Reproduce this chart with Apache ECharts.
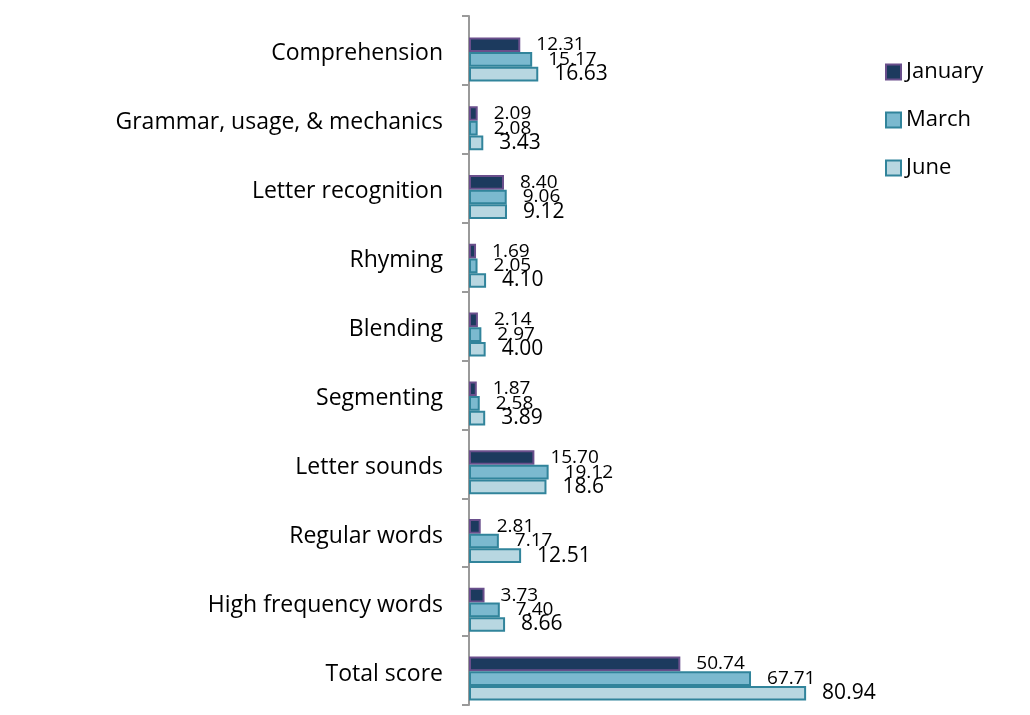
<!DOCTYPE html>
<html>
<head>
<meta charset="utf-8">
<script src="https://cdn.jsdelivr.net/npm/echarts@6/dist/echarts.min.js"></script>
<style>
html,body{margin:0;padding:0;background:#fff;}
#chart{width:1030px;height:715px;}
</style>
</head>
<body>
<div id="chart"></div>
<script>
const categories = ['Comprehension','Grammar, usage, & mechanics','Letter recognition','Rhyming','Blending','Segmenting','Letter sounds','Regular words','High frequency words','Total score'];
const seriesNames = ['January','March','June'];
const january = ['12.31','2.09','8.40','1.69','2.14','1.87','15.70','2.81','3.73','50.74'];
const march = ['15.17','2.08','9.06','2.05','2.97','2.58','19.12','7.17','7.40','67.71'];
const june = ['16.63','3.43','9.12','4.10','4.00','3.89','18.6','12.51','8.66','80.94'];

const FONT = '"Open Sans"';
const styles = [
  {fill:'#1c3a5e', border:'#6a4f8c', labelSize:19},
  {fill:'#7bb9cf', border:'#31849b', labelSize:19},
  {fill:'#b8d7e1', border:'#31849b', labelSize:21}
];
const allData = [january, march, june];

const chart = echarts.init(document.getElementById('chart'), null, {renderer:'canvas'});
chart.setOption({
  animation:false,
  textStyle:{fontFamily:FONT},
  legend:{
    orient:'vertical', left:885, top:60, padding:0, itemWidth:15, itemHeight:15, itemGap:24,
    icon:'rect',
    textStyle:{fontFamily:FONT, fontSize:22, lineHeight:24, color:'#000'},
    data: seriesNames.map((n,i)=>({name:n, itemStyle:{color:styles[i].fill, borderColor:styles[i].border, borderWidth:2}}))
  },
  grid:[
    {left:469, top:16, bottom:10, width:416.5, containLabel:false},
    {left:469, top:25, bottom:2, width:416.5, containLabel:false},
    {left:469, top:19.5, bottom:6.5, width:416.5, containLabel:false}
  ],
  xAxis:[
    {gridIndex:0, type:'value', min:0, max:100, show:false},
    {gridIndex:1, type:'value', min:0, max:100, show:false},
    {gridIndex:2, type:'value', min:0, max:100, show:false}
  ],
  yAxis:[
    {
      gridIndex:0, type:'category', inverse:true, data:categories,
      axisLine:{show:true, lineStyle:{color:'#9a9a9a', width:2}},
      axisTick:{show:true, length:7, lineStyle:{color:'#9a9a9a', width:2}},
      axisLabel:{show:false}
    },
    {gridIndex:1, type:'category', inverse:true, data:categories, show:false},
    {
      gridIndex:2, type:'category', inverse:true, data:categories,
      axisLine:{show:false}, axisTick:{show:false},
      axisLabel:{fontFamily:FONT, fontSize:23, color:'#000', margin:26}
    }
  ],
  series: seriesNames.map((n,i)=>({
    name:n, type:'bar', xAxisIndex:1, yAxisIndex:1, barGap:'0%', barCategoryGap:'36%',
    data: allData[i],
    itemStyle:{color:styles[i].fill, borderColor:styles[i].border, borderWidth:2},
    label:{show:true, position:'right', distance:16, fontFamily:FONT, fontSize:styles[i].labelSize, color:'#000',
      formatter: p => allData[i][p.dataIndex]}
  }))
});
</script>
</body>
</html>
